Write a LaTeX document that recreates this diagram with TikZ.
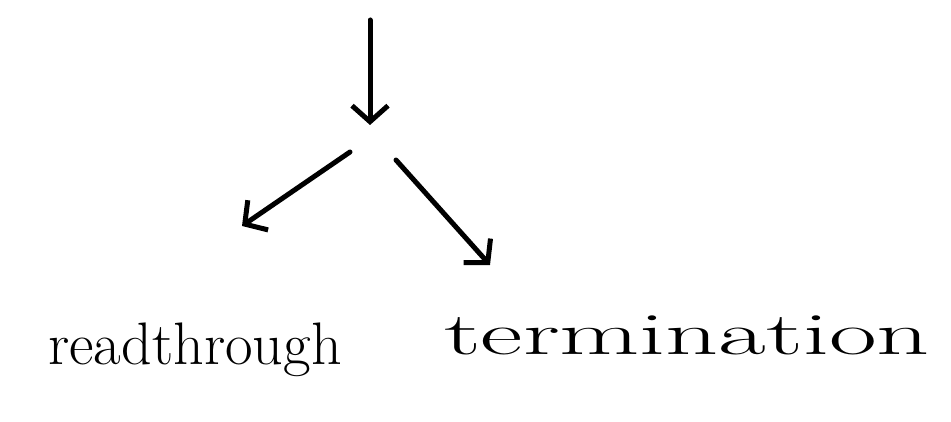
\documentclass[tikz,border=0pt]{standalone}
\usetikzlibrary{arrows.meta}
\begin{document}
\begin{tikzpicture}[x=1pt,y=-1pt,
  arr/.style={line width=5pt,line cap=round,-{Straight Barb[length=16pt,width=36pt,line width=5pt]}},
  lbl/.style={inner sep=0pt,anchor=center,font=\fontsize{60}{60}\selectfont}]
\useasboundingbox (0,0) rectangle (951,422);
\coordinate (top) at (370,20);
\coordinate (mid) at (370,125);
\coordinate (ls) at (350,152);
\coordinate (le) at (242,226);
\coordinate (rs) at (396,160);
\coordinate (re) at (490,265);
\draw[arr] (top) -- (mid);
\draw[arr] (ls) -- (le);
\draw[arr] (rs) -- (re);
\node[lbl] (rt) at (195,350) {\scalebox{1.0}[1.0]{readthrough}};
\node[lbl] (tm) at (687,335) {\scalebox{1.73}[1.0]{termination}};
\end{tikzpicture}
\end{document}
